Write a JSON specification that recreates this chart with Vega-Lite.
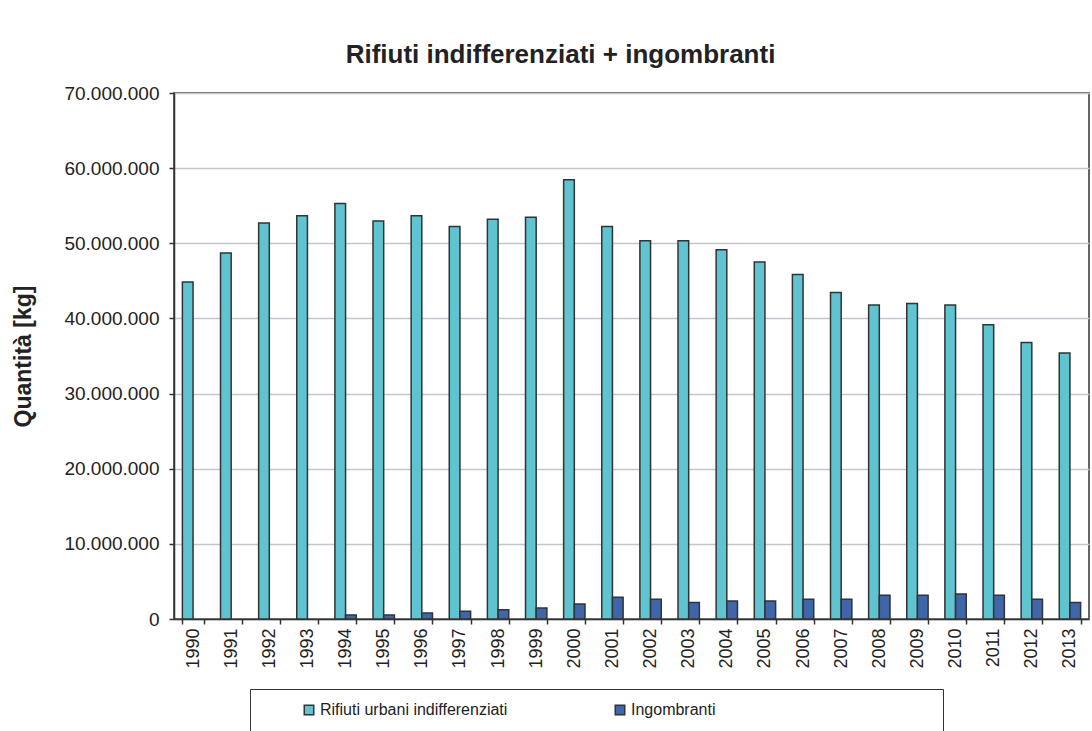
{
  "$schema": "https://vega.github.io/schema/vega-lite/v6.json",
  "autosize": "none",
  "width": 915,
  "height": 526,
  "padding": {"left": 174, "top": 93, "right": 3, "bottom": 112},
  "background": "white",
  "title": {
    "text": "Rifiuti indifferenziati + ingombranti",
    "font": "Liberation Sans",
    "fontSize": 26,
    "fontWeight": "bold",
    "color": "#222222",
    "anchor": "middle",
    "dx": -71,
    "dy": 26,
    "baseline": "alphabetic",
    "offset": 21
  },
  "data": {
    "values": [
      {"anno": "1990", "serie": "Rifiuti urbani indifferenziati", "valore": 44850000},
      {"anno": "1991", "serie": "Rifiuti urbani indifferenziati", "valore": 48700000},
      {"anno": "1992", "serie": "Rifiuti urbani indifferenziati", "valore": 52700000},
      {"anno": "1993", "serie": "Rifiuti urbani indifferenziati", "valore": 53650000},
      {"anno": "1994", "serie": "Rifiuti urbani indifferenziati", "valore": 55300000},
      {"anno": "1995", "serie": "Rifiuti urbani indifferenziati", "valore": 52950000},
      {"anno": "1996", "serie": "Rifiuti urbani indifferenziati", "valore": 53650000},
      {"anno": "1997", "serie": "Rifiuti urbani indifferenziati", "valore": 52250000},
      {"anno": "1998", "serie": "Rifiuti urbani indifferenziati", "valore": 53200000},
      {"anno": "1999", "serie": "Rifiuti urbani indifferenziati", "valore": 53450000},
      {"anno": "2000", "serie": "Rifiuti urbani indifferenziati", "valore": 58450000},
      {"anno": "2001", "serie": "Rifiuti urbani indifferenziati", "valore": 52250000},
      {"anno": "2002", "serie": "Rifiuti urbani indifferenziati", "valore": 50350000},
      {"anno": "2003", "serie": "Rifiuti urbani indifferenziati", "valore": 50350000},
      {"anno": "2004", "serie": "Rifiuti urbani indifferenziati", "valore": 49150000},
      {"anno": "2005", "serie": "Rifiuti urbani indifferenziati", "valore": 47500000},
      {"anno": "2006", "serie": "Rifiuti urbani indifferenziati", "valore": 45850000},
      {"anno": "2007", "serie": "Rifiuti urbani indifferenziati", "valore": 43450000},
      {"anno": "2008", "serie": "Rifiuti urbani indifferenziati", "valore": 41800000},
      {"anno": "2009", "serie": "Rifiuti urbani indifferenziati", "valore": 42000000},
      {"anno": "2010", "serie": "Rifiuti urbani indifferenziati", "valore": 41800000},
      {"anno": "2011", "serie": "Rifiuti urbani indifferenziati", "valore": 39150000},
      {"anno": "2012", "serie": "Rifiuti urbani indifferenziati", "valore": 36800000},
      {"anno": "2013", "serie": "Rifiuti urbani indifferenziati", "valore": 35400000},
      {"anno": "1994", "serie": "Ingombranti", "valore": 530000},
      {"anno": "1995", "serie": "Ingombranti", "valore": 530000},
      {"anno": "1996", "serie": "Ingombranti", "valore": 800000},
      {"anno": "1997", "serie": "Ingombranti", "valore": 1020000},
      {"anno": "1998", "serie": "Ingombranti", "valore": 1240000},
      {"anno": "1999", "serie": "Ingombranti", "valore": 1460000},
      {"anno": "2000", "serie": "Ingombranti", "valore": 2000000},
      {"anno": "2001", "serie": "Ingombranti", "valore": 2880000},
      {"anno": "2002", "serie": "Ingombranti", "valore": 2620000},
      {"anno": "2003", "serie": "Ingombranti", "valore": 2180000},
      {"anno": "2004", "serie": "Ingombranti", "valore": 2400000},
      {"anno": "2005", "serie": "Ingombranti", "valore": 2400000},
      {"anno": "2006", "serie": "Ingombranti", "valore": 2620000},
      {"anno": "2007", "serie": "Ingombranti", "valore": 2620000},
      {"anno": "2008", "serie": "Ingombranti", "valore": 3150000},
      {"anno": "2009", "serie": "Ingombranti", "valore": 3150000},
      {"anno": "2010", "serie": "Ingombranti", "valore": 3330000},
      {"anno": "2011", "serie": "Ingombranti", "valore": 3150000},
      {"anno": "2012", "serie": "Ingombranti", "valore": 2620000},
      {"anno": "2013", "serie": "Ingombranti", "valore": 2180000}
    ]
  },
  "mark": {"type": "bar", "stroke": "#333333", "strokeWidth": 1.5},
  "encoding": {
    "x": {
      "field": "anno",
      "type": "nominal",
      "scale": {"paddingInner": 0.44, "paddingOuter": 0.22},
      "axis": {
        "title": null,
        "labelAngle": -90,
        "labelAlign": "right",
        "labelBaseline": "middle",
        "labelFont": "Liberation Sans",
        "labelFontSize": 18,
        "labelColor": "#222222",
        "labelPadding": 4,
        "tickBand": "extent",
        "tickSize": 5,
        "tickColor": "#333333",
        "tickWidth": 1.5,
        "domainColor": "#333333",
        "domainWidth": 1.5,
        "grid": false
      }
    },
    "xOffset": {
      "field": "serie",
      "type": "nominal",
      "scale": {"domain": ["Rifiuti urbani indifferenziati", "Ingombranti"], "paddingInner": 0, "paddingOuter": 0}
    },
    "y": {
      "field": "valore",
      "type": "quantitative",
      "scale": {"domain": [0, 70000000], "nice": false},
      "axis": {
        "title": "Quantità [kg]",
        "titleFont": "Liberation Sans",
        "titleFontSize": 23,
        "titleFontWeight": "bold",
        "titleColor": "#222222",
        "titlePadding": 28,
        "values": [0, 10000000, 20000000, 30000000, 40000000, 50000000, 60000000, 70000000],
        "format": ",d",
        "labelFont": "Liberation Sans",
        "labelFontSize": 19,
        "labelColor": "#222222",
        "labelPadding": 10,
        "tickSize": 5,
        "tickColor": "#333333",
        "tickWidth": 1.5,
        "domainColor": "#333333",
        "domainWidth": 1.5,
        "grid": true,
        "gridColor": "#c4c6cc",
        "gridWidth": 1.5
      }
    },
    "fill": {
      "field": "serie",
      "type": "nominal",
      "scale": {"domain": ["Rifiuti urbani indifferenziati", "Ingombranti"], "range": ["#5fc3d0", "#4066aa"]},
      "legend": {
        "title": "\u00a0",
        "titleOrient": "right",
        "titleFontSize": 1,
        "titlePadding": 215,
        "orient": "none",
        "legendX": 76,
        "legendY": 596,
        "direction": "horizontal",
        "columns": 2,
        "columnPadding": 66,
        "padding": 13,
        "strokeColor": "#333333",
        "symbolType": "square",
        "symbolSize": 90,
        "symbolStrokeColor": "#333333",
        "symbolStrokeWidth": 1.5,
        "symbolOffset": 38,
        "labelOffset": 3,
        "labelFont": "Liberation Sans",
        "labelFontSize": 16,
        "labelColor": "#222222",
        "labelLimit": 400
      }
    }
  },
  "config": {
    "locale": {
      "number": {"decimal": ",", "thousands": ".", "grouping": [3], "currency": ["", " €"]}
    },
    "view": {"stroke": "#333333", "strokeWidth": 1.5}
  }
}
